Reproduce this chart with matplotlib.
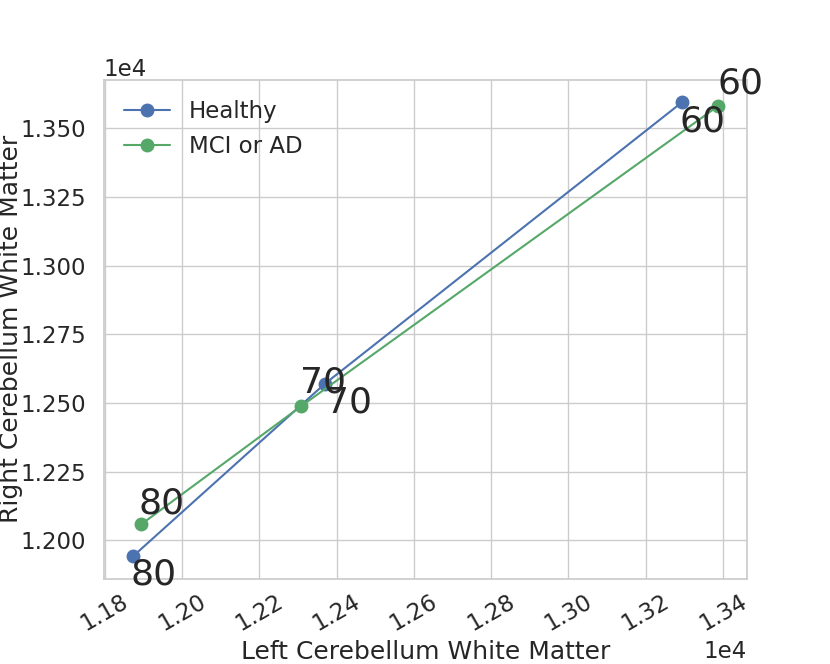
import matplotlib
matplotlib.use('Agg')
import matplotlib.pyplot as plt
import seaborn as sns

sns.set_theme(style='whitegrid', context='talk',
              rc={'grid.linewidth': 1.0, 'axes.linewidth': 1.25})

ages = [60, 70, 80]
healthy_left = [13294, 12369, 11873]
healthy_right = [13594, 12569, 11942]
mci_left = [13387, 12309, 11894]
mci_right = [13580, 12489, 12058]

# label offsets in pixels, (dx, dy) per age
healthy_offsets = [(-2, -29), (-25, -8), (-2, -28)]
mci_offsets = [(0, 13), (25, -6), (-3, 11)]

fig = plt.figure(figsize=(8.3, 6.64), dpi=100)
ax = fig.add_subplot(111)
fig.subplots_adjust(left=0.125, right=0.9, top=0.88, bottom=0.128)

ax.plot(healthy_left, healthy_right, marker='o', lw=1.5, ms=9,
        color='#4C72B0', label='Healthy')
ax.plot(mci_left, mci_right, marker='o', lw=1.5, ms=9,
        color='#55A868', label='MCI or AD')

for x, y, a, off in zip(healthy_left, healthy_right, ages, healthy_offsets):
    ax.annotate(str(a), (x, y), xytext=off, textcoords='offset pixels',
                fontsize=26, color='#262626')
for x, y, a, off in zip(mci_left, mci_right, ages, mci_offsets):
    ax.annotate(str(a), (x, y), xytext=off, textcoords='offset pixels',
                fontsize=26, color='#262626')

ax.ticklabel_format(style='sci', axis='both', scilimits=(0, 0))
plt.xticks(rotation=30)
ax.tick_params(axis='x', pad=-1)
ax.set_xlabel('Left Cerebellum White Matter', labelpad=3)
ax.set_ylabel('Right Cerebellum White Matter', labelpad=-2)
ax.legend(loc='upper left', frameon=False)

fig.savefig('out.png', dpi=100)
